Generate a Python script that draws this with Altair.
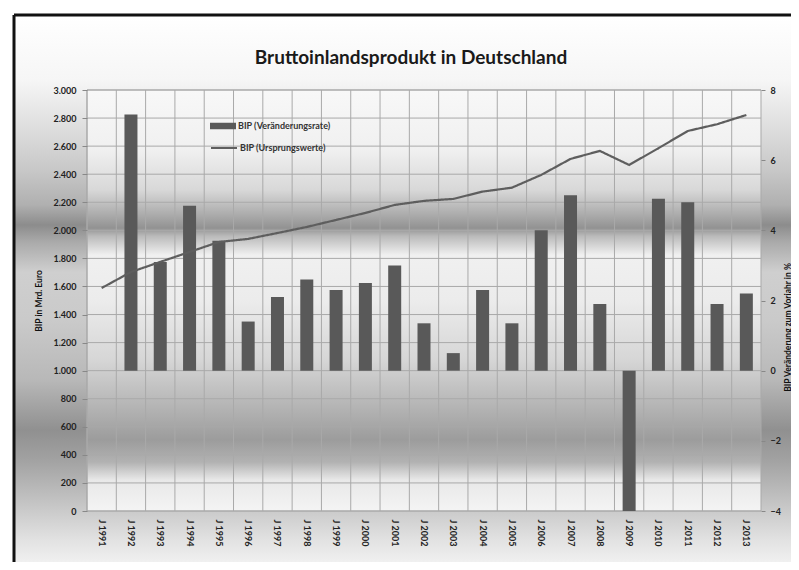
import altair as alt
import pandas as pd

title_text = "Bruttoinlandsprodukt in Deutschland"
years = ["J 1991", "J 1992", "J 1993", "J 1994", "J 1995", "J 1996", "J 1997",
         "J 1998", "J 1999", "J 2000", "J 2001", "J 2002", "J 2003", "J 2004",
         "J 2005", "J 2006", "J 2007", "J 2008", "J 2009", "J 2010", "J 2011",
         "J 2012", "J 2013"]
growth_pct = [None, 7.3, 3.1, 4.7, 3.7, 1.4, 2.1, 2.6, 2.3, 2.5, 3.0, 1.35, 0.5,
              2.3, 1.35, 4.0, 5.0, 1.9, -4.0, 4.9, 4.8, 1.9, 2.2]
bip_mrd = [1589, 1703, 1775, 1846, 1917, 1939, 1981, 2024, 2074, 2124, 2181, 2210,
           2224, 2276, 2304, 2395, 2509, 2566, 2466, 2585, 2708, 2756, 2822]
left_ticks = [0, 200, 400, 600, 800, 1000, 1200, 1400, 1600, 1800, 2000, 2200,
              2400, 2600, 2800, 3000]
right_ticks = [-4, -2, 0, 2, 4, 6, 8]
legend_bar = "BIP (Veränderungsrate)"
legend_line = "BIP (Ursprungswerte)"
left_title = "BIP in Mrd. Euro"
right_title = "BIP Veränderung zum Vorjahr in %"

W, H = 674, 421
PAD_R = 791 - 8 - 79 - W
FONT = "Lato"
BAR = "#595959"
LINE = "#5e5e5e"
GRID = "#a9a9a9"

df = pd.DataFrame({"year": years, "growth": growth_pct, "bip": bip_mrd,
                   "s1": legend_bar, "s2": legend_line})
grid_df = pd.DataFrame({"v": left_ticks})
one = pd.DataFrame({"k": [0]})

outer_stops = [(0.0, "#ffffff"), (0.119, "#f6f6f6"), (0.192, "#e2e2e2"),
               (0.283, "#c8c8c8"), (0.347, "#b0b0b0"), (0.384, "#8c8c8c"),
               (0.415, "#aaaaaa"), (0.47, "#cfcfcf"), (0.558, "#cacaca"),
               (0.667, "#b8b8b8"), (0.759, "#909090"), (0.814, "#a2a2a2"),
               (0.887, "#c2c2c2"), (0.96, "#e2e2e2"), (1.0, "#f0f0f0")]
plot_stops = [(0.0, "#f8f8f8"), (0.1425, "#f0f0f0"), (0.2375, "#d8d8d8"),
              (0.297, "#ababab"), (0.328, "#929292"), (0.347, "#bababa"),
              (0.392, "#f0f0f0"), (0.499, "#ececec"), (0.641, "#d6d6d6"),
              (0.76, "#b2b2b2"), (0.831, "#9c9c9c"), (0.884, "#b2b2b2"),
              (0.926, "#e8e8e8"), (1.0, "#f4f4f4")]


def grad(stops):
    return alt.LinearGradient(
        gradient="linear", x1=0, y1=0, x2=0, y2=1,
        stops=[alt.GradientStop(offset=o, color=c) for o, c in stops])


xs = alt.Scale(domain=years, paddingInner=0, paddingOuter=0)
left_scale = alt.Scale(domain=[0, 3000], nice=False, zero=True)
right_scale = alt.Scale(domain=[-4, 8], nice=False)

x_axis = alt.Axis(labelAngle=90, labelAlign="left", labelBaseline="middle",
                  ticks=False, domain=False, grid=False, labelPadding=8,
                  labelFont=FONT, labelFontSize=9, labelFontWeight="bold",
                  labelColor="#222222", zindex=1)

bg_outer = alt.Chart(one).mark_rect(color=grad(outer_stops), clip=False).encode(
    x=alt.value(-73), x2=alt.value(W + PAD_R), y=alt.value(-75), y2=alt.value(H + 51))
bg_plot = alt.Chart(one).mark_rect(color=grad(plot_stops), stroke=GRID,
                                    strokeWidth=1).encode(
    x=alt.value(0), x2=alt.value(W), y=alt.value(0), y2=alt.value(H))
frame_top = alt.Chart(one).mark_rule(color="#111111", strokeWidth=3).encode(
    x=alt.value(-73), x2=alt.value(W + PAD_R), y=alt.value(-75))
frame_left = alt.Chart(one).mark_rule(color="#111111", strokeWidth=3).encode(
    x=alt.value(-73), y=alt.value(-75), y2=alt.value(H + 51))

title_mark = alt.Chart(one).mark_text(
    text=title_text, font=FONT, fontSize=19, fontWeight="bold", color="#1a1a1a",
    align="center", baseline="alphabetic").encode(
    x=alt.value(324), y=alt.value(-26))

hgrid = alt.Chart(grid_df).mark_rule(color=GRID, strokeWidth=1).encode(
    y=alt.Y("v:Q", scale=left_scale, axis=None),
    x=alt.value(0), x2=alt.value(W))

vgrid = alt.Chart(df).mark_rule(color=GRID, strokeWidth=1).encode(
    x=alt.X("year:N", scale=xs, bandPosition=0, axis=x_axis, title=None),
    y=alt.value(0), y2=alt.value(H))

bars = alt.Chart(df).mark_bar(size=13).encode(
    x=alt.X("year:N", scale=xs, title=None, axis=x_axis),
    y=alt.Y("growth:Q", scale=right_scale,
            axis=alt.Axis(orient="right", values=right_ticks, grid=False,
                          domain=False, tickSize=4, tickColor="#888888",
                          labelPadding=5, labelFont=FONT, labelFontSize=9,
                          labelFontWeight="bold", labelColor="#222222",
                          title=right_title, titleAngle=270, titleY=237,
                          titleX=26, titleAlign="center", titleBaseline="middle",
                          titleFont=FONT, titleFontSize=8.5,
                          titleFontWeight="bold", titleColor="#111111", zindex=1)),
    color=alt.Color("s1:N", scale=alt.Scale(range=[BAR]),
                    legend=alt.Legend(title=None, orient="none", legendX=123,
                                      legendY=23, padding=0,
                                      symbolType="M-1,-0.25H1V0.25H-1Z",
                                      symbolSize=676, symbolStrokeWidth=0,
                                      symbolOpacity=1, labelOffset=2,
                                      labelFont=FONT, labelFontSize=9,
                                      labelFontWeight="bold",
                                      labelColor="#333333", zindex=1)),
)

line = alt.Chart(df).mark_line(color=LINE, strokeWidth=2.2).encode(
    x=alt.X("year:N", scale=xs, axis=x_axis, title=None),
    y=alt.Y("bip:Q", scale=left_scale,
            axis=alt.Axis(orient="left", values=left_ticks, grid=False,
                          domain=False, tickSize=5, tickColor="#888888",
                          labelPadding=6, labelFont=FONT, labelFontSize=9,
                          labelFontWeight="bold", labelColor="#222222",
                          labelExpr="replace(format(datum.value, ','), ',', '.')",
                          title=left_title, titlePadding=9, titleFont=FONT,
                          titleFontSize=8.5, titleFontWeight="bold",
                          titleColor="#111111", zindex=1)),
    strokeDash=alt.StrokeDash("s2:N", scale=alt.Scale(range=[[1, 0]]),
                              legend=alt.Legend(title=None, orient="none",
                                                legendX=123, legendY=44, padding=0,
                                                symbolType="stroke", symbolSize=676,
                                                symbolStrokeColor=LINE,
                                                symbolStrokeWidth=2,
                                                labelOffset=2, labelFont=FONT,
                                                labelFontSize=9,
                                                labelFontWeight="bold",
                                                labelColor="#333333", zindex=1)),
)

chart = alt.layer(bg_outer, bg_plot, frame_top, frame_left, title_mark, hgrid,
                  vgrid, bars, line).resolve_scale(
    y="independent", color="independent", strokeDash="independent"
).properties(
    width=W, height=H,
    autosize=alt.AutoSizeParams(type="none"),
    padding={"left": 79, "top": 82, "right": PAD_R, "bottom": 51},
    background="white",
).configure_view(stroke=None)

chart.save("out.html", embed_options={"renderer": "svg", "actions": False})
